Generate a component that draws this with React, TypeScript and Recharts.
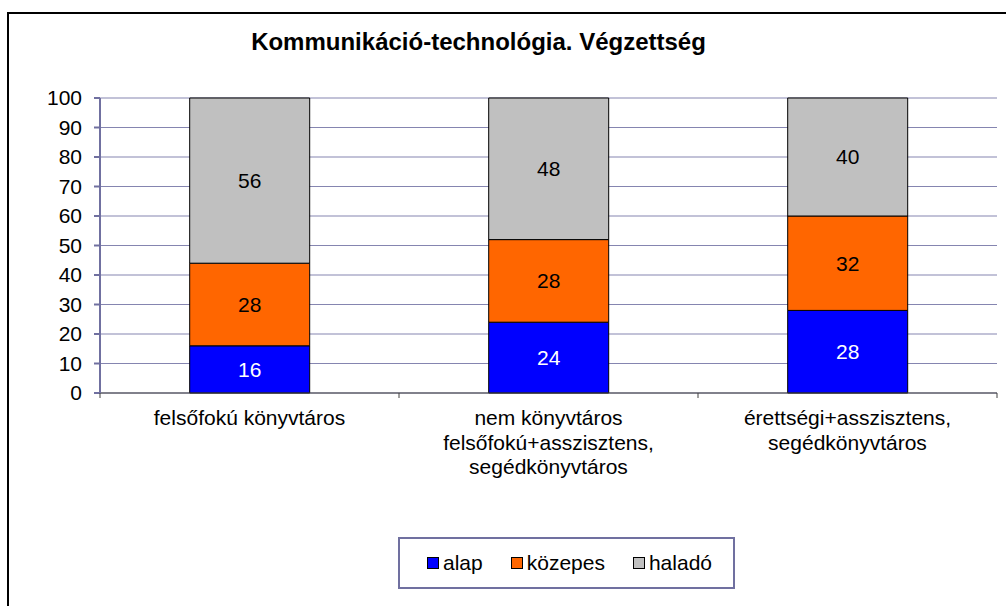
import React from "react";
import { BarChart, Bar, XAxis, YAxis, CartesianGrid, LabelList } from "recharts";

const categories = [
  "felsőfokú könyvtáros",
  "nem könyvtáros\nfelsőfokú+asszisztens,\nsegédkönyvtáros",
  "érettségi+asszisztens,\nsegédkönyvtáros",
];
const alap = [16, 24, 28];
const kozepes = [28, 28, 32];
const halado = [56, 48, 40];
const yTicks = [0, 10, 20, 30, 40, 50, 60, 70, 80, 90, 100];

const series = [
  { key: "alap", name: "alap", color: "#0000FF", label: "#FFFFFF" },
  { key: "kozepes", name: "közepes", color: "#FF6600", label: "#000000" },
  { key: "halado", name: "haladó", color: "#C0C0C0", label: "#000000" },
];

const data = categories.map((name, i) => ({
  name,
  alap: alap[i],
  kozepes: kozepes[i],
  halado: halado[i],
}));

const FONT = "'Liberation Sans', Arial, sans-serif";
const FS = 21;
const W = 1006;
const H = 606;
const MARGIN = { top: 98, right: 9, left: 40, bottom: 183 };
const Y_AXIS_W = 60;
const PLOT_W = W - MARGIN.left - Y_AXIS_W - MARGIN.right;
const BAND = PLOT_W / categories.length;

// multi-line category label plus tick marks at the band edges
function CategoryTick(props: any) {
  const { x, y, payload, index } = props;
  const lines = String(payload.value).split("\n");
  const axisY = y - 8;
  return (
    <g>
      <line x1={x - BAND / 2} x2={x - BAND / 2} y1={axisY} y2={axisY + 5} stroke="#404040" />
      {index === categories.length - 1 && (
        <line x1={x + BAND / 2} x2={x + BAND / 2} y1={axisY} y2={axisY + 5} stroke="#404040" />
      )}
      <text x={x} y={y} textAnchor="middle" fill="#000" fontSize={FS} fontFamily={FONT}>
        {lines.map((l, i) => (
          <tspan key={i} x={x} dy={i === 0 ? 24 : 24.5}>
            {l}
          </tspan>
        ))}
      </text>
    </g>
  );
}

export default function App() {
  return (
    <div
      style={{
        position: "fixed",
        left: 0,
        top: 0,
        width: W,
        height: H,
        overflow: "hidden",
        background: "#fff",
        fontFamily: FONT,
      }}
    >
      <div
        style={{
          position: "absolute",
          left: 7,
          top: 12,
          width: 1100,
          height: 700,
          border: "2px solid #000",
        }}
      />
      <div
        style={{
          position: "absolute",
          left: 0,
          width: 957,
          top: 28,
          textAlign: "center",
          fontWeight: "bold",
          fontSize: 24,
          color: "#000",
        }}
      >
        Kommunikáció-technológia. Végzettség
      </div>
      <div style={{ position: "absolute", left: 0, top: 0 }}>
        <BarChart width={W} height={H} data={data} margin={MARGIN} barCategoryGap="30%">
          <CartesianGrid horizontal vertical={false} stroke="#8585b0" />
          <XAxis
            dataKey="name"
            interval={0}
            height={30}
            axisLine={{ stroke: "#404040" }}
            tickLine={false}
            tick={<CategoryTick />}
          />
          <YAxis
            domain={[0, 100]}
            ticks={yTicks}
            interval={0}
            width={Y_AXIS_W}
            axisLine={{ stroke: "#7070a0", strokeWidth: 2 }}
            tickLine={{ stroke: "#7070a0", strokeWidth: 2 }}
            tickSize={6}
            tickMargin={12}
            tick={{ fill: "#000", fontSize: FS, fontFamily: FONT }}
          />
          <YAxis
            yAxisId="frame"
            orientation="right"
            width={0}
            tick={false}
            tickLine={false}
            axisLine={{ stroke: "#a0a0c8", strokeWidth: 2 }}
          />
          {series.map((s) => (
            <Bar
              key={s.key}
              dataKey={s.key}
              name={s.name}
              stackId="a"
              fill={s.color}
              stroke="#000"
              strokeWidth={1}
              isAnimationActive={false}
            >
              <LabelList
                dataKey={s.key}
                position="center"
                fill={s.label}
                fontSize={FS}
                fontFamily={FONT}
              />
            </Bar>
          ))}
        </BarChart>
      </div>
      <div
        style={{
          position: "absolute",
          left: 398,
          top: 537,
          width: 306,
          height: 48,
          border: "2px solid #7070a0",
          display: "flex",
          alignItems: "center",
          justifyContent: "flex-start",
          paddingLeft: 27,
          boxSizing: "content-box",
          gap: 28,
          fontSize: FS,
          color: "#000",
        }}
      >
        {series.map((s) => (
          <div key={s.key} style={{ display: "flex", alignItems: "center" }}>
            <span
              style={{
                display: "inline-block",
                width: 10,
                height: 10,
                background: s.color,
                border: "1px solid #000",
                marginRight: 4,
              }}
            />
            <span>{s.name}</span>
          </div>
        ))}
      </div>
    </div>
  );
}
